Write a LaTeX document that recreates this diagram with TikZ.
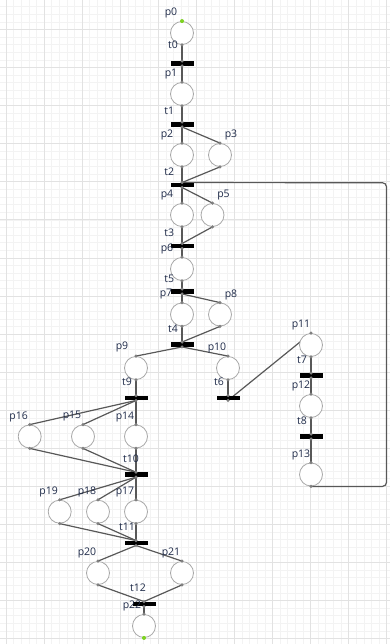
\documentclass[tikz,border=0pt]{standalone}
\usepackage{fontspec}
\setmainfont{Open Sans}
\usepackage{tikz}
\usetikzlibrary{backgrounds}
\definecolor{gridminor}{RGB}{243,243,243}
\definecolor{gridmajor}{RGB}{226,226,226}
\definecolor{ringgray}{RGB}{168,168,168}
\definecolor{arcgray}{RGB}{88,88,88}
\definecolor{dotgray}{RGB}{128,128,128}
\definecolor{labelnavy}{RGB}{30,42,72}
\definecolor{tokengreen}{RGB}{126,211,33}

\begin{document}
\begin{tikzpicture}[x=1pt, y=-1pt,
  place/.style={circle, draw=ringgray, fill=white, line width=0.8pt,
                minimum size=23pt, inner sep=0pt},
  trans/.style={rectangle, fill=black, minimum width=23pt,
                minimum height=4.5pt, inner sep=0pt},
  arc/.style={draw=arcgray, line width=1.2pt},
  lbl/.style={font=\fontsize{10.5}{12}\selectfont, text=labelnavy, inner sep=0pt},
  plabel/.style={lbl, xshift=-11pt, yshift=20pt},
  rlabel/.style={lbl, xshift=11pt, yshift=20pt},
  tlabel/.style={lbl, xshift=-9pt, yshift=16pt}
]
\useasboundingbox (0,0) rectangle (390,644);

% Grid
\begin{scope}[on background layer]
\foreach \k in {-1,...,50}
  \draw[gridminor, line width=0.6pt] ({6+7.614*\k},0) -- ({6+7.614*\k},644);
\foreach \k in {-3,...,80}
  \draw[gridminor, line width=0.6pt] (0,{29.5+7.614*\k}) -- (390,{29.5+7.614*\k});
\foreach \k in {0,5,...,50}
  \draw[gridmajor, line width=0.8pt] ({6+7.614*\k},0) -- ({6+7.614*\k},644);
\foreach \k in {0,5,...,80}
  \draw[gridmajor, line width=0.8pt] (0,{29.5+7.614*\k}) -- (390,{29.5+7.614*\k});
\end{scope}

% Main column
\node[place, label={[plabel]center:p0}] (p0) at (182,33) {};
\node[trans, label={[tlabel, yshift=2.5pt]center:t0}] (t0) at (182,63.5) {};
\node[place, label={[plabel]center:p1}] (p1) at (182,94) {};
\node[trans, label={[tlabel, xshift=-3.7pt, yshift=-2.5pt]center:t1}] (t1) at (182,124.5) {};
\node[place, label={[plabel, xshift=-4pt]center:p2}] (p2) at (182,155) {};
\node[place, label={[rlabel]center:p3}] (p3) at (220,155) {};
\node[trans, label={[tlabel, xshift=-3.7pt, yshift=-2.5pt]center:t2}] (t2) at (182,185) {};
\node[place, label={[plabel, xshift=-4pt]center:p4}] (p4) at (182,215) {};
\node[place, label={[rlabel]center:p5}] (p5) at (212.5,215) {};
\node[trans, label={[tlabel, xshift=-3.7pt, yshift=-2.5pt]center:t3}] (t3) at (182,246) {};
\node[place, label={[plabel, xshift=-4pt]center:p6}] (p6) at (182,269) {};
\node[trans, label={[tlabel, xshift=-3.7pt, yshift=-3pt]center:t5}] (t5) at (182,291.5) {};
\node[place, label={[plabel, xshift=-5pt]center:p7}] (p7) at (182,314.5) {};
\node[place, label={[rlabel]center:p8}] (p8) at (220,314.5) {};
\node[trans, label={[tlabel]center:t4}] (t4) at (182,344.5) {};

% Split into two branches
\node[place, label={[plabel, xshift=-3pt, yshift=1pt]center:p9}] (p9) at (136,368) {};
\node[place, label={[plabel]center:p10}] (p10) at (228,368) {};
\node[trans, label={[tlabel]center:t9}] (t9) at (136,398) {};
\node[trans, label={[tlabel]center:t6}] (t6) at (228,398) {};

% Right column
\node[place, label={[plabel, xshift=1pt]center:p11}] (p11) at (311,345) {};
\node[trans, label={[tlabel]center:t7}] (t7) at (311,375.5) {};
\node[place, label={[plabel, xshift=1pt]center:p12}] (p12) at (311,406) {};
\node[trans, label={[tlabel]center:t8}] (t8) at (311,436.5) {};
\node[place, label={[plabel, xshift=1pt]center:p13}] (p13) at (311,474.5) {};

% Lower part
\node[place, label={[plabel]center:p14}] (p14) at (136,436.5) {};
\node[place, label={[plabel]center:p15}] (p15) at (83,436.5) {};
\node[place, label={[plabel]center:p16}] (p16) at (29.7,436.5) {};
\node[trans, label={[tlabel, xshift=4pt]center:t10}] (t10) at (136,474.7) {};
\node[place, label={[plabel]center:p17}] (p17) at (136,511.7) {};
\node[place, label={[plabel]center:p18}] (p18) at (98,511.7) {};
\node[place, label={[plabel]center:p19}] (p19) at (59.7,511.7) {};
\node[trans, label={[tlabel]center:t11}] (t11) at (136,543) {};
\node[place, label={[plabel]center:p20}] (p20) at (98,573) {};
\node[place, label={[plabel]center:p21}] (p21) at (182,573) {};
\node[trans, label={[tlabel, xshift=3pt]center:t12}] (t12) at (144,604) {};
\node[place, label={[plabel, xshift=-1pt]center:p22}] (p22) at (144,626) {};

% Arcs
\begin{scope}[on background layer]
\draw[arc] (p0.south) -- (t0.north);
\draw[arc] (t0.south) -- (p1.north);
\draw[arc] (p1.south) -- (t1.north);
\draw[arc] (t1.south) -- (p2.north);
\draw[arc] (t1.south) -- (p3.north);
\draw[arc] (p2.south) -- (t2.north);
\draw[arc] (p3.south) -- (t2.north);
\draw[arc] (t2.south) -- (p4.north);
\draw[arc] (t2.south) -- (p5.north);
\draw[arc] (p4.south) -- (t3.north);
\draw[arc] (p5.south) -- (t3.north);
\draw[arc] (t3.south) -- (p6.north);
\draw[arc] (p6.south) -- (t5.north);
\draw[arc] (t5.south) -- (p7.north);
\draw[arc] (t5.south) -- (p8.north);
\draw[arc] (p7.south) -- (t4.north);
\draw[arc] (p8.south) -- (t4.north);
\draw[arc] (t4.south) -- (p9.north);
\draw[arc] (t4.south) -- (p10.north);
\draw[arc] (p9.south) -- (t9.north);
\draw[arc] (p10.south) -- (t6.north);
\draw[arc] (t6.south) -- (p11.north);
\draw[arc] (p11.south) -- (t7.north);
\draw[arc] (t7.south) -- (p12.north);
\draw[arc] (p12.south) -- (t8.north);
\draw[arc] (t8.south) -- (p13.north);
\coordinate (back) at (386.5,182.75);
\draw[arc, rounded corners=4pt] (p13.south) -| (back) -- (t2.north);
\draw[arc] (t9.south) -- (p14.north);
\draw[arc] (t9.south) -- (p15.north);
\draw[arc] (t9.south) -- (p16.north);
\draw[arc] (p14.south) -- (t10.north);
\draw[arc] (p15.south) -- (t10.north);
\draw[arc] (p16.south) -- (t10.north);
\draw[arc] (t10.south) -- (p17.north);
\draw[arc] (t10.south) -- (p18.north);
\draw[arc] (t10.south) -- (p19.north);
\draw[arc] (p17.south) -- (t11.north);
\draw[arc] (p18.south) -- (t11.north);
\draw[arc] (p19.south) -- (t11.north);
\draw[arc] (t11.south) -- (p20.north);
\draw[arc] (t11.south) -- (p21.north);
\draw[arc] (p20.south) -- (t12.north);
\draw[arc] (p21.south) -- (t12.north);
\draw[arc] (t12.south) -- (p22.north);
\end{scope}

% Ports
\foreach \n in {p0,p1,p2,p3,p4,p5,p6,p7,p8,p9,p10,p11,p12,p13,p14,p15,p16,
                p17,p18,p19,p20,p21,p22,t0,t1,t2,t3,t4,t5,t6,t7,t8,t9,t10,t11,t12}{
  \fill[dotgray] (\n.north) circle (1.7pt);
  \fill[dotgray] (\n.south) circle (1.7pt);
}
\fill[tokengreen] (p0.north) circle (2pt);
\fill[tokengreen] (p22.south) circle (2pt);

\end{tikzpicture}
\end{document}
